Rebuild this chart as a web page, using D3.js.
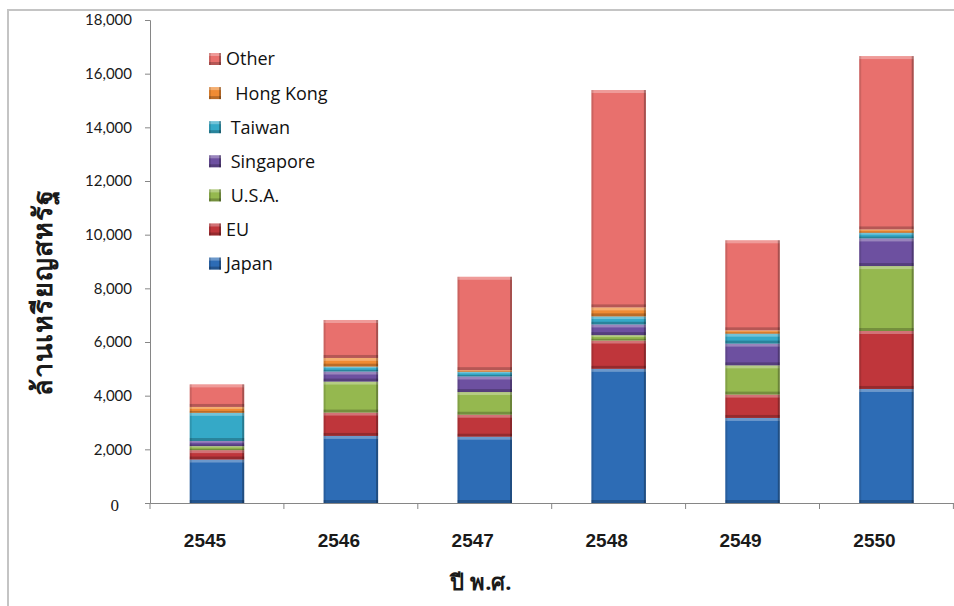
<!DOCTYPE html>
<html>
<head>
<meta charset="utf-8">
<script src="https://cdn.jsdelivr.net/npm/d3@7"></script>
<style>
  html, body { margin: 0; padding: 0; background: #fff; }
  svg { display: block; }
</style>
</head>
<body>
<svg id="chart" width="954" height="606"></svg>
<script>
// Exports by destination, million USD, per Buddhist-era year
const years = ["2545", "2546", "2547", "2548", "2549", "2550"];
const japan     = [1620, 2500, 2470, 5000, 3170, 4250];
const eu        = [350, 870, 820, 1055, 870, 2160];
const usa       = [150, 1155, 845, 200, 1090, 2420];
const singapore = [190, 375, 580, 400, 810, 1030];
const taiwan    = [1050, 185, 175, 300, 370, 210];
const hongKong  = [220, 320, 60, 335, 125, 125];
const other     = [840, 1415, 3480, 8100, 3355, 6460];

const seriesKeys   = ["Japan", "EU", "U.S.A.", "Singapore", "Taiwan", "Hong Kong", "Other"];
const seriesValues = [japan, eu, usa, singapore, taiwan, hongKong, other];
const seriesColors = ["#2d6cb5", "#bf363b", "#95b84f", "#6d50a0", "#35a9c7", "#f08b33", "#e8706d"];
const legendLabels = ["Japan", "EU", " U.S.A.", " Singapore", " Taiwan", "  Hong Kong", "Other"];
const yTicks = [0, 2000, 4000, 6000, 8000, 10000, 12000, 14000, 16000, 18000];

const rows = years.map((yr, i) => {
  const r = { year: yr };
  seriesKeys.forEach((k, j) => { r[k] = seriesValues[j][i]; });
  return r;
});
const stacked = d3.stack().keys(seriesKeys)(rows);

const svg = d3.select("#chart");
const color = d3.scaleOrdinal().domain(seriesKeys).range(seriesColors);

const x = d3.scaleBand().domain(years).range([150, 953.4])
  .paddingInner(0.593).paddingOuter(0.2965);
const y = d3.scaleLinear().domain([0, 18000]).range([503, 20]);

// outer frame (left and top edges)
svg.append("path")
  .attr("d", "M8,606 L8,10 L954,10")
  .attr("fill", "none").attr("stroke", "#c4c4c4").attr("stroke-width", 2);

// y axis
const yAxis = svg.append("g").attr("transform", "translate(150,0)")
  .call(d3.axisLeft(y).tickValues(yTicks).tickSize(5).tickPadding(13)
    .tickFormat(d3.format(",")));
yAxis.select(".domain").attr("stroke", "#868686");
yAxis.selectAll(".tick line").attr("stroke", "#868686");
yAxis.selectAll(".tick text")
  .attr("fill", "#1a1a1a")
  .style("font-family", "Lato, 'Open Sans', sans-serif")
  .style("font-size", "15px");
yAxis.selectAll(".tick").filter(d => d === 0).select("text")
  .style("font-family", "'Liberation Serif', serif")
  .style("font-size", "17px")
  .attr("dx", -13).attr("dy", "0.42em");

// x axis
const xAxis = svg.append("g").attr("transform", "translate(0,503)")
  .call(d3.axisBottom(x).tickSize(0).tickSizeOuter(0));
xAxis.select(".domain").attr("stroke", "#868686");
xAxis.selectAll(".tick text")
  .attr("y", 44).attr("dy", 0).attr("dx", -12)
  .attr("fill", "#1a1a1a")
  .style("font-family", "'Liberation Sans', Arial, sans-serif")
  .style("font-weight", "bold")
  .style("font-size", "19px");

// category boundary ticks
const gap = (x.step() - x.bandwidth()) / 2;
const bounds = years.map(yr => x(yr) - gap).concat([x(years[years.length - 1]) + x.bandwidth() + gap]);
svg.append("g").selectAll("line").data(bounds).join("line")
  .attr("x1", d => d).attr("x2", d => d)
  .attr("y1", 503).attr("y2", 509)
  .attr("stroke", "#868686");

// bevelled rectangle helper
function bevel(g, bx, by, bw, bh, fill) {
  g.append("rect").attr("x", bx).attr("y", by).attr("width", bw).attr("height", bh).attr("fill", fill);
  const e = Math.min(3, bh / 3);
  g.append("rect").attr("x", bx).attr("y", by).attr("width", bw).attr("height", e)
    .attr("fill", "#fff").attr("opacity", 0.3);
  g.append("rect").attr("x", bx).attr("y", by + bh - e).attr("width", bw).attr("height", e)
    .attr("fill", "#000").attr("opacity", 0.22);
  g.append("rect").attr("x", bx).attr("y", by).attr("width", 2).attr("height", bh)
    .attr("fill", "#000").attr("opacity", 0.12);
  g.append("rect").attr("x", bx + bw - 2).attr("y", by).attr("width", 2).attr("height", bh)
    .attr("fill", "#000").attr("opacity", 0.28);
}

// stacked bars
const barsG = svg.append("g");
stacked.forEach(layer => {
  layer.forEach(d => {
    const y0 = y(d[0]), y1 = y(d[1]);
    bevel(barsG.append("g"), x(d.data.year), y1, x.bandwidth(), y0 - y1, color(layer.key));
  });
});

// legend (Other at top, Japan at bottom)
const legendOrder = seriesKeys.map((k, i) => i).reverse();
const legend = svg.append("g");
legendOrder.forEach((si, row) => {
  const cy = 59 + row * 34.1;
  const g = legend.append("g");
  bevel(g, 209, cy - 6, 12, 12, seriesColors[si]);
  g.append("text")
    .attr("x", 226).attr("y", cy).attr("dy", "0.36em")
    .attr("xml:space", "preserve")
    .style("white-space", "pre")
    .attr("fill", "#111")
    .style("font-family", "'Open Sans', Lato, sans-serif")
    .style("font-size", "18px")
    .text(legendLabels[si]);
});

// axis titles
svg.append("text")
  .attr("transform", "translate(52,292) rotate(-90)")
  .attr("text-anchor", "middle")
  .attr("fill", "#1a1a1a")
  .style("font-family", "'Noto Sans', 'DejaVu Sans', sans-serif")
  .style("font-weight", "bold")
  .style("font-size", "27px")
  .style("letter-spacing", "1px")
  .text("ล้านเหรียญสหรัฐ");

svg.append("text")
  .attr("x", 481).attr("y", 590)
  .attr("text-anchor", "middle")
  .attr("fill", "#1a1a1a")
  .style("font-family", "'Noto Sans', 'DejaVu Sans', sans-serif")
  .style("font-weight", "bold")
  .style("font-size", "22px")
  .text("ปี พ.ศ.");
</script>
</body>
</html>
